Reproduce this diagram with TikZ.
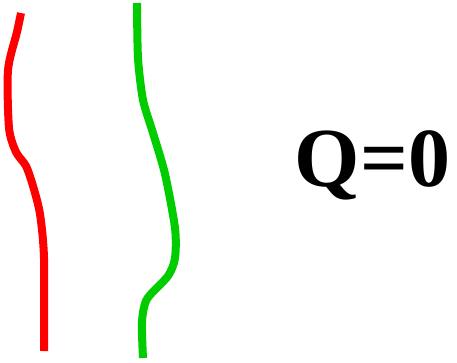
\documentclass[tikz,border=0pt]{standalone}
\usepackage{fontspec}
\setmainfont{Liberation Serif}
\definecolor{lgreen}{RGB}{0,204,0}
\begin{document}
\begin{tikzpicture}[x=1pt,y=-1pt,
  curve/.style={line width=8pt,line join=round}]
\useasboundingbox (0,0) rectangle (457,362);
\draw[curve,red] plot[smooth,tension=0.45] coordinates {(21,13) (17,32) (8,70) (9,128) (16,152) (26,166) (33,186) (40,214) (44,258) (44,351)};
\draw[curve,lgreen] plot[smooth,tension=0.45] coordinates {(137,3) (138,58) (143,100) (153,133) (165,174) (175,228) (175,258) (168,276) (147,299) (142,322) (143,358)};
\node[anchor=base,inner sep=0pt,font=\fontsize{84}{84}\selectfont\bfseries] (q) at (372.5,186) {Q=0};
\end{tikzpicture}
\end{document}
